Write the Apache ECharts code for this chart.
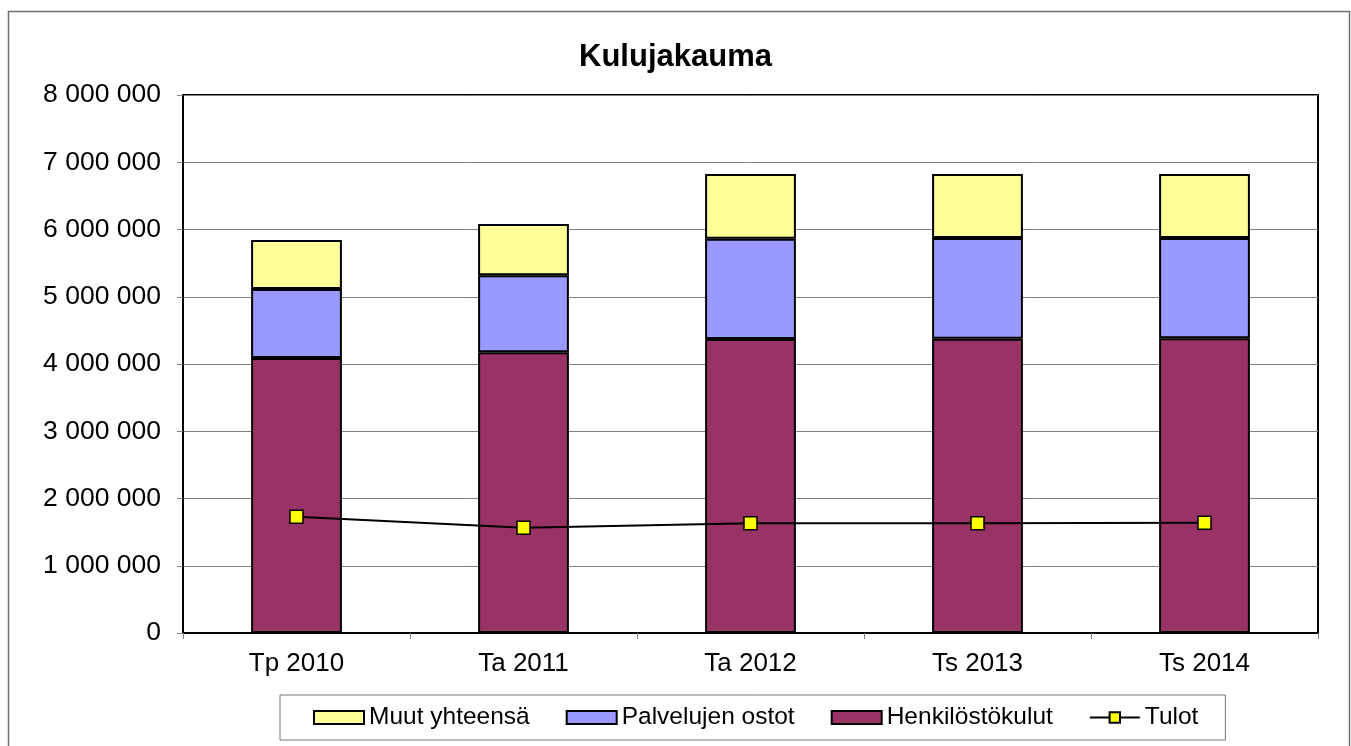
<!DOCTYPE html>
<html>
<head>
<meta charset="utf-8">
<script src="https://cdn.jsdelivr.net/npm/echarts@6/dist/echarts.min.js"></script>
<style>
html,body{margin:0;padding:0;background:#fff;}
#chart{width:1351px;height:746px;}
</style>
</head>
<body>
<div id="chart"></div>
<script>
const categories = ['Tp 2010', 'Ta 2011', 'Ta 2012', 'Ts 2013', 'Ts 2014'];
const henkilostokulut = [4090000, 4175000, 4372000, 4377000, 4382000];
const palvelujenOstot = [1025000, 1145000, 1490000, 1497000, 1492000];
const muutYhteensa = [729000, 763000, 963000, 951000, 951000];
const tulot = [1729000, 1566000, 1631000, 1632000, 1640000];
const yTicks = [0, 1000000, 2000000, 3000000, 4000000, 5000000, 6000000, 7000000, 8000000];

const FONT = '"Liberation Sans", Arial, sans-serif';
function fmt(v) { return String(v).replace(/\B(?=(\d{3})+(?!\d))/g, ' '); }

const chart = echarts.init(document.getElementById('chart'), null, {renderer: 'canvas'});
chart.setOption({
  backgroundColor: '#fff',
  animation: false,
  textStyle: {fontFamily: FONT},
  graphic: [{
    type: 'rect', left: 6, top: 9, silent: true,
    shape: {width: 1341, height: 760},
    style: {fill: 'none', stroke: '#707070', lineWidth: 1.5}
  }],
  title: {
    text: 'Kulujakauma', left: 'center', top: 37,
    textStyle: {fontFamily: FONT, fontSize: 31, fontWeight: 'bold', color: '#000'}
  },
  legend: {
    left: 280, top: 695,
    padding: [10, 27, 10, 33],
    borderColor: '#777', borderWidth: 1,
    itemWidth: 50, itemHeight: 13, itemGap: 36,
    textStyle: {fontFamily: FONT, fontSize: 24.5, color: '#000'},
    data: [
      {name: 'Muut yhteensä', icon: 'rect'},
      {name: 'Palvelujen ostot', icon: 'rect'},
      {name: 'Henkilöstökulut', icon: 'rect'},
      {name: 'Tulot'}
    ]
  },
  grid: {
    left: 183, right: 33, top: 95, bottom: 113,
    show: true, borderColor: '#000', borderWidth: 2, backgroundColor: '#fff'
  },
  xAxis: {
    type: 'category', data: categories,
    axisLine: {lineStyle: {color: '#000', width: 2}},
    axisTick: {show: true, length: 6, lineStyle: {color: '#808080'}},
    axisLabel: {fontFamily: FONT, fontSize: 26, color: '#000', margin: 18}
  },
  yAxis: {
    type: 'value', min: yTicks[0], max: yTicks[yTicks.length - 1], interval: 1000000,
    axisLine: {show: true, lineStyle: {color: '#000', width: 2}},
    axisTick: {show: true, length: 6, lineStyle: {color: '#808080'}},
    splitLine: {lineStyle: {color: '#808080', width: 1}},
    axisLabel: {fontFamily: FONT, fontSize: 26.5, color: '#000', margin: 22, formatter: fmt}
  },
  series: [
    {name: 'Henkilöstökulut', type: 'bar', stack: 'k', data: henkilostokulut, barWidth: '40%',
     itemStyle: {color: '#993366', borderColor: '#000', borderWidth: 2}},
    {name: 'Palvelujen ostot', type: 'bar', stack: 'k', data: palvelujenOstot, barWidth: '40%',
     itemStyle: {color: '#9999FF', borderColor: '#000', borderWidth: 2}},
    {name: 'Muut yhteensä', type: 'bar', stack: 'k', data: muutYhteensa, barWidth: '40%',
     itemStyle: {color: '#FFFF99', borderColor: '#000', borderWidth: 2}},
    {name: 'Tulot', type: 'line', data: tulot, z: 5,
     symbol: 'rect', symbolSize: 13,
     lineStyle: {color: '#000', width: 2},
     itemStyle: {color: '#FFFF00', borderColor: '#000', borderWidth: 1.5}}
  ]
});
</script>
</body>
</html>
